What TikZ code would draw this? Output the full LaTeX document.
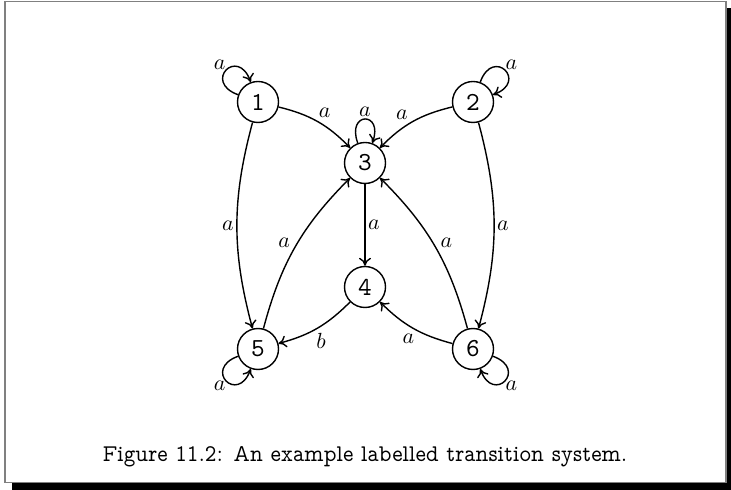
\documentclass[tikz,border=0pt]{standalone}
\usepackage{fontspec}
\newfontfamily\vtt{lmmonoprop10-regular.otf}
\newfontfamily\capfont[FakeStretch=0.92]{lmmonoprop10-regular.otf}
\usetikzlibrary{arrows.meta}
\begin{document}
\begin{tikzpicture}[x=0.5pt,y=0.5pt,
  state/.style={circle,draw,line width=0.7pt,minimum size=20.5pt,inner sep=0pt,
    font=\vtt\fontsize{13}{15}\selectfont},
  tr/.style={-{Computer Modern Rightarrow[length=4pt,width=6pt]},line width=0.7pt},
  lab/.style={font=\fontsize{11}{13}\selectfont,inner sep=1.2pt},
  lp/.style={tr,distance=19pt}]
\useasboundingbox (0,0) rectangle (731,-490);
\fill[black] (12,-8) rectangle (731,-490);
\filldraw[fill=white,draw=black!50,line width=0.8pt] (5,-1.5) rectangle (726,-482.5);

\node[state] (n1) at (258,-102) {1};
\node[state] (n2) at (473,-102) {2};
\node[state] (n3) at (365,-163) {3};
\node[state] (n4) at (365,-287) {4};
\node[state] (n5) at (258,-349) {5};
\node[state] (n6) at (473,-349) {6};

\draw[lp] (n1) to[out=160,in=110] node[lab,pos=0.5,anchor=south east,inner sep=0pt] {$a$} (n1);
\draw[lp] (n2) to[out=70,in=20] node[lab,pos=0.5,anchor=south west,inner sep=0pt] {$a$} (n2);
\draw[lp,distance=17pt] (n3) to[out=110,in=70] node[lab,pos=0.5,anchor=south,inner sep=1pt] {$a$} (n3);
\draw[lp] (n5) to[out=200,in=250] node[lab,pos=0.5,anchor=north east,inner sep=0pt] {$a$} (n5);
\draw[lp] (n6) to[out=-20,in=-70] node[lab,pos=0.5,anchor=north west,inner sep=0pt] {$a$} (n6);

\draw[tr] (n1) to[bend left=16] node[lab,auto,pos=0.47] {$a$} (n3);
\draw[tr] (n2) to[bend right=16] node[lab,auto,swap,pos=0.53] {$a$} (n3);
\draw[tr] (n1) to[bend right=15] node[lab,auto,swap] {$a$} (n5);
\draw[tr] (n2) to[bend left=15] node[lab,auto] {$a$} (n6);
\draw[tr] (n5) to[bend left=15] node[lab,auto,pos=0.47] {$a$} (n3);
\draw[tr] (n6) to[bend right=15] node[lab,auto,swap,pos=0.47] {$a$} (n3);
\draw[tr] (n3) to node[lab,auto] {$a$} (n4);
\draw[tr] (n4) to[bend left=15] node[lab,auto,pos=0.56] {$b$} (n5);
\draw[tr] (n6) to[bend left=15] node[lab,auto,pos=0.44] {$a$} (n4);

\node[anchor=base,font=\capfont\fontsize{12}{14}\selectfont,inner sep=0pt] (cap) at (365,-461)
  {Figure 11.2: An example labelled transition system.};
\end{tikzpicture}
\end{document}
